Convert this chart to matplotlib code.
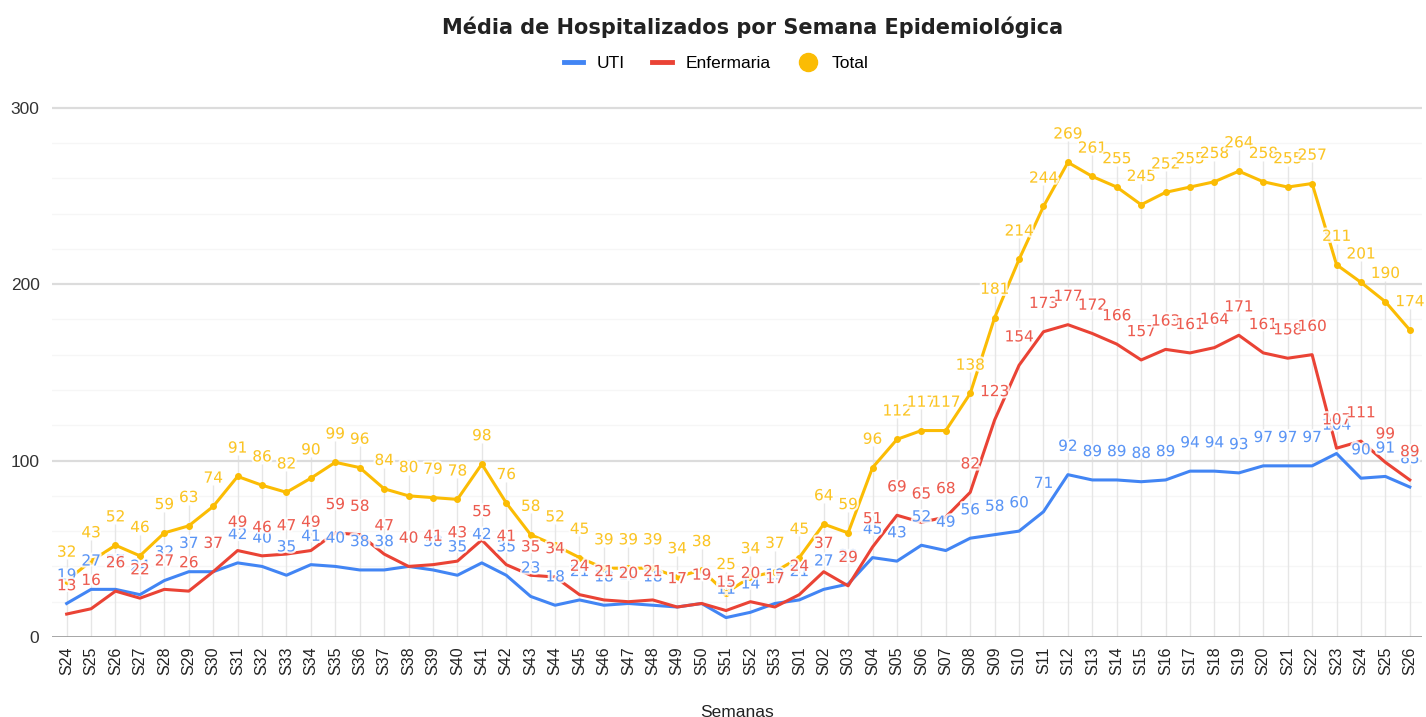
import matplotlib
matplotlib.use("Agg")
import matplotlib.pyplot as plt
import matplotlib.patheffects as pe
from matplotlib.lines import Line2D

semanas = [f"S{i}" for i in range(24, 54)] + [f"S{i:02d}" for i in range(1, 27)]

uti = [19, 27, 27, 24, 32, 37, 37, 42, 40, 35, 41, 40, 38, 38, 40, 38, 35, 42, 35, 23,
       18, 21, 18, 19, 18, 17, 19, 11, 14, 19, 21, 27, 30, 45, 43, 52, 49, 56, 58, 60,
       71, 92, 89, 89, 88, 89, 94, 94, 93, 97, 97, 97, 104, 90, 91, 85]
enfermaria = [13, 16, 26, 22, 27, 26, 37, 49, 46, 47, 49, 59, 58, 47, 40, 41, 43, 55, 41, 35,
              34, 24, 21, 20, 21, 17, 19, 15, 20, 17, 24, 37, 29, 51, 69, 65, 68, 82, 123, 154,
              173, 177, 172, 166, 157, 163, 161, 164, 171, 161, 158, 160, 107, 111, 99, 89]
total = [32, 43, 52, 46, 59, 63, 74, 91, 86, 82, 90, 99, 96, 84, 80, 79, 78, 98, 76, 58,
         52, 45, 39, 39, 39, 34, 38, 25, 34, 37, 45, 64, 59, 96, 112, 117, 117, 138, 181, 214,
         244, 269, 261, 255, 245, 252, 255, 258, 264, 258, 255, 257, 211, 201, 190, 174]

C_UTI = "#4285F4"
C_ENF = "#EA4335"
C_TOT = "#FBBC04"

fig = plt.figure(figsize=(14.26, 7.17), dpi=100)
ax = fig.add_axes([52 / 1426, 1 - 637 / 717, (1422 - 52) / 1426, (637 - 90) / 717])

x = list(range(len(semanas)))
ax.set_xlim(-0.6, len(semanas) - 0.5)
ax.set_ylim(0, 310)

for yv in range(20, 300, 20):
    if yv % 100:
        ax.axhline(yv, color="#f6f6f6", lw=1, zorder=0)
ax.vlines(x, 0, [t + 12 for t in total], color="#e6e6e6", lw=1, zorder=0.2)
for yv in (100, 200, 300):
    ax.axhline(yv, color="#dcdcdc", lw=1.6, zorder=0.5)
ax.axhline(0, color="#9e9e9e", lw=2, zorder=0.6)

ax.plot(x, uti, color=C_UTI, lw=2.2, zorder=2)
ax.plot(x, enfermaria, color=C_ENF, lw=2.2, zorder=2)
ax.plot(x, total, color=C_TOT, lw=2.2, marker="o", ms=4, zorder=2)

halo = [pe.withStroke(linewidth=3, foreground="white")]
for vals, col, z in ((uti, C_UTI, 3), (enfermaria, C_ENF, 4), (total, C_TOT, 5)):
    for xi, v in zip(x, vals):
        t = ax.annotate(str(v), (xi, v), xytext=(0, 15), textcoords="offset points",
                        ha="center", va="bottom", fontsize=11, color=col,
                        family="DejaVu Sans", zorder=z, alpha=0.85)
        t.set_path_effects(halo)

for s in ax.spines.values():
    s.set_visible(False)
ax.set_yticks([0, 100, 200, 300])
ax.set_xticks(x)
ax.set_xticklabels(semanas, rotation=90, fontsize=11.5, family="Liberation Sans", color="#222222")
ax.tick_params(axis="y", length=0, labelsize=12.5, labelcolor="#333333", pad=9)
ax.tick_params(axis="x", length=0, pad=7)
for lbl in ax.get_yticklabels():
    lbl.set_family("Liberation Sans")
ax.set_xlabel("Semanas", fontsize=12.5, family="Liberation Sans", color="#222222", labelpad=21)

fig.text(0.528, 1 - 27 / 717, "Média de Hospitalizados por Semana Epidemiológica",
         ha="center", va="center", fontsize=15, fontweight="bold", family="DejaVu Sans",
         color="#222222")

handles = [Line2D([], [], color=C_UTI, lw=3.5),
           Line2D([], [], color=C_ENF, lw=3.5),
           Line2D([], [], color=C_TOT, lw=0, marker="o", ms=13)]
fig.legend(handles, ["UTI", "Enfermaria", "Total"], loc="center",
           bbox_to_anchor=(0.502, 1 - 63 / 717), ncol=3, frameon=False,
           prop={"family": "Liberation Sans", "size": 12.5}, handlelength=1.1,
           columnspacing=1.6, handletextpad=0.8)

fig.savefig("out.png", dpi=100, facecolor="white")
